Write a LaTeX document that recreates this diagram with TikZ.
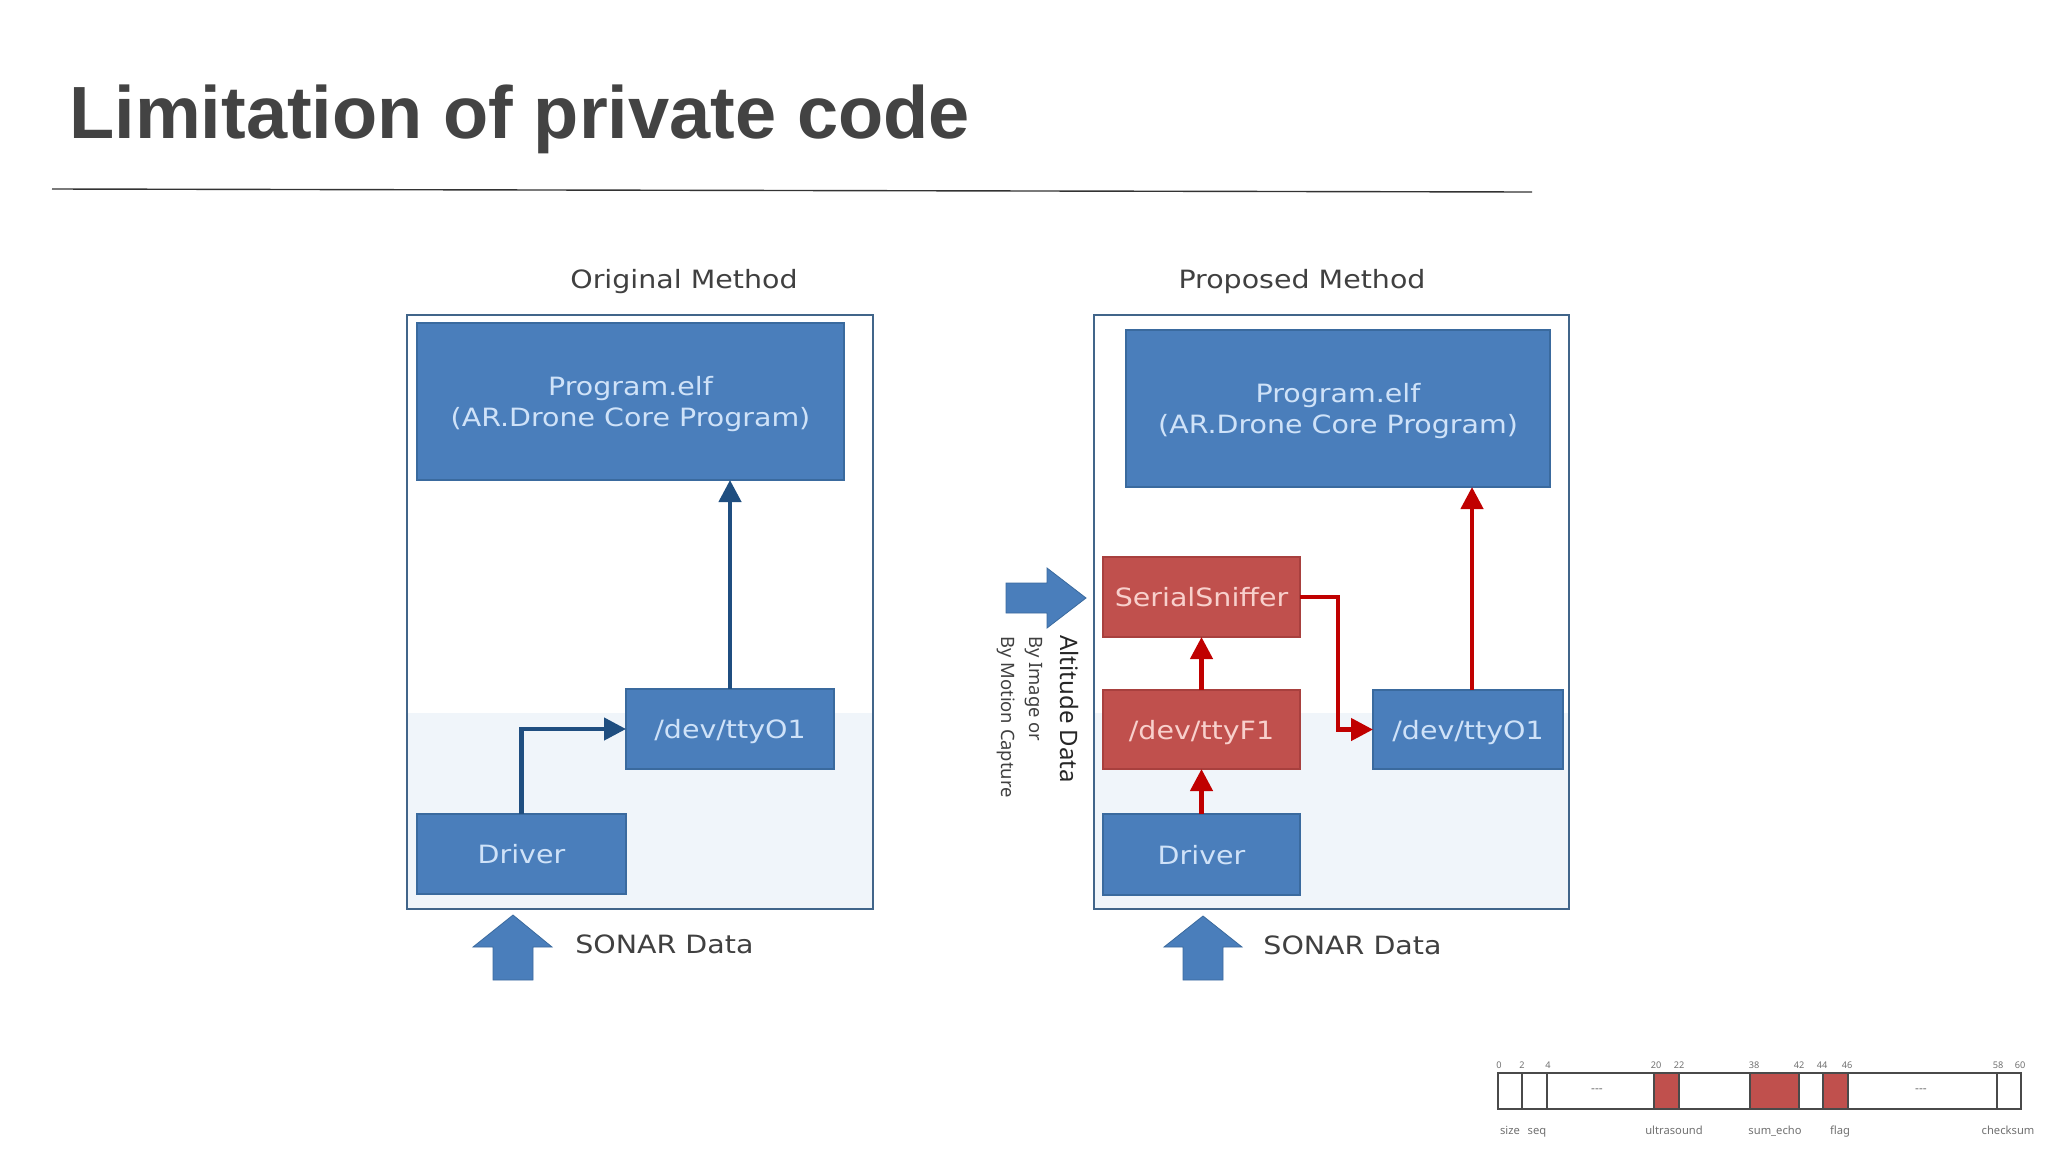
\documentclass[tikz,border=0pt]{standalone}
\usepackage{fontspec}
\setmainfont[FakeStretch=1.13]{DejaVu Sans}
\newfontfamily\titlefont{Liberation Sans}
\newfontfamily\sidefont{Noto Sans}
\usetikzlibrary{arrows.meta}
\definecolor{bluefill}{HTML}{4A7EBB}
\definecolor{blueedge}{HTML}{3A6A9E}
\definecolor{bluetext}{HTML}{CFE2F8}
\definecolor{redfill}{HTML}{C0504D}
\definecolor{rededge}{HTML}{A8403E}
\definecolor{redtext}{HTML}{F8D0CC}
\definecolor{framecol}{HTML}{41658A}
\definecolor{shadecol}{HTML}{F0F5FA}
\definecolor{darkarrow}{HTML}{1F4E80}
\definecolor{redarrow}{HTML}{C00000}
\definecolor{titlecol}{HTML}{434343}
\definecolor{bodytext}{HTML}{404040}
\definecolor{cellred}{HTML}{C0504D}
\definecolor{cellline}{HTML}{4A4A4A}
\definecolor{smalltext}{HTML}{707070}
\tikzset{
  wh/.style 2 args={minimum width=#1*0.5pt, minimum height=#2*0.5pt, inner sep=0pt, outer sep=0pt},
  bluebox/.style={draw=blueedge, fill=bluefill, line width=1pt, text=bluetext, text depth=0pt, font=\fontsize{12.6}{15.5}\selectfont, align=center},
  redbox/.style={draw=rededge, fill=redfill, line width=1pt, text=redtext, text depth=0pt, font=\fontsize{12.6}{15.5}\selectfont, align=center},
  framebox/.style={draw=framecol, line width=1.1pt},
  darrow/.style={draw=darkarrow, line width=2.2pt, -{Triangle[length=11pt,width=11pt]}},
  rarrow/.style={draw=redarrow, line width=2.2pt, -{Triangle[length=11pt,width=11pt]}},
  lbl/.style={text=bodytext, font=\fontsize{12.6}{15.5}\selectfont, inner sep=0pt},
  sidelbl/.style={text=bodytext, inner sep=0pt, rotate=-90, anchor=west},
  cell/.style={draw=cellline, line width=0.8pt},
  redcell/.style={cell, fill=cellred},
  numtxt/.style={text=smalltext, font=\sidefont\fontsize{4.6}{5}\selectfont, inner sep=0pt},
  captxt/.style={text=smalltext, font=\sidefont\fontsize{5.6}{6}\selectfont, inner sep=0pt, text height=4.2pt, text depth=1.2pt},
  dotstxt/.style={text=smalltext, font=\sidefont\bfseries\fontsize{6}{6}\selectfont, inner sep=0pt},
  blockarrow/.style={fill=bluefill, draw=blueedge, line width=0.4pt},
}
\begin{document}
\begin{tikzpicture}[x=0.5pt,y=-0.5pt]
\useasboundingbox (0,0) rectangle (2048,1152);
% title
\node[anchor=base west, inner sep=0pt, text=titlecol, font=\titlefont\bfseries\fontsize{37}{40}\selectfont] (title) at (69,138) {Limitation of private code};
\coordinate (ruleA) at (52,189);
\coordinate (ruleB) at (1532,192);
\draw[line width=0.7pt, draw=black!80] (ruleA) -- (ruleB);
% shaded lower parts
\fill[shadecol] (407,713) rectangle (873,909);
\fill[shadecol] (1094,713) rectangle (1569,909);
% frames
\node[framebox, wh={466}{594}] (frameL) at (640,612) {};
\node[framebox, wh={475}{594}] (frameR) at (1331.5,612) {};
\node[lbl] (titleL) at (684,282) {Original Method};
\node[lbl] (titleR) at (1302,282) {Proposed Method};
% left boxes
\node[bluebox, wh={427}{157}] (progL) at (630.5,401.5) {Program.elf\\(AR.Drone Core Program)};
\node[bluebox, wh={208}{80}] (ttyL) at (730,729) {/dev/ttyO1};
\node[bluebox, wh={209}{80}] (drvL) at (521.5,854) {Driver};
\draw[darrow] (drvL.north) |- (ttyL.west);
\draw[darrow] (ttyL.north) -- (ttyL.north |- progL.south);
% right boxes
\node[bluebox, wh={424}{157}] (progR) at (1338,408.5) {Program.elf\\(AR.Drone Core Program)};
\node[redbox, wh={197}{80}] (sniff) at (1201.5,597) {SerialSniffer};
\node[redbox, wh={197}{79}] (ttyF) at (1201.5,729.5) {/dev/ttyF1};
\node[bluebox, wh={197}{81}] (drvR) at (1201.5,854.5) {Driver};
\node[bluebox, wh={190}{79}] (ttyR) at (1468,729.5) {/dev/ttyO1};
\coordinate (bend) at (1338,597);
\draw[rarrow] (drvR.north) -- (ttyF.south);
\draw[rarrow] (ttyF.north) -- (sniff.south);
\draw[rarrow] (sniff.east) -- (bend) |- (ttyR.west);
\draw[rarrow] ([xshift=2pt]ttyR.north) -- ([xshift=2pt]ttyR.north |- progR.south);
% block arrows
\draw[blockarrow] (493,980) -- (493,947) -- (473,947) -- (513,915) -- (552,947) -- (533,947) -- (533,980) -- cycle;
\draw[blockarrow] (1183,980) -- (1183,947) -- (1164,947) -- (1203,916) -- (1242,947) -- (1223,947) -- (1223,980) -- cycle;
\draw[blockarrow] (1006,583) -- (1047,583) -- (1047,568) -- (1086,598) -- (1047,628) -- (1047,613) -- (1006,613) -- cycle;
\node[lbl, anchor=west] (sonarL) at (575,944) {SONAR Data};
\node[lbl, anchor=west] (sonarR) at (1263,945) {SONAR Data};
\node[sidelbl, text=black!85, font=\sidefont\fontsize{12}{13}\selectfont] (alt) at (1069,635) {Altitude Data};
\node[sidelbl, font=\sidefont\fontsize{9.2}{10}\selectfont] (byimg) at (1034,636) {By Image or};
\node[sidelbl, font=\sidefont\fontsize{9.2}{10}\selectfont] (bymot) at (1006,636) {By Motion Capture};
% packet strip
\draw[cell] (1498,1073) rectangle (2021,1109);
\draw[cell] (1522,1073) -- (1522,1109);
\draw[cell] (1547,1073) -- (1547,1109);
\draw[cell] (1997,1073) -- (1997,1109);
\draw[redcell] (1654,1073) rectangle (1679,1109);
\draw[redcell] (1750,1073) rectangle (1799,1109);
\draw[redcell] (1823,1073) rectangle (1848,1109);
\node[dotstxt] (d1) at (1597,1091) {-{}-{}-};
\node[dotstxt] (d2) at (1921,1091) {-{}-{}-};
\node[numtxt] (n0) at (1499,1065) {0};
\node[numtxt] (n2) at (1522,1065) {2};
\node[numtxt] (n4) at (1548,1065) {4};
\node[numtxt] (n20) at (1656,1065) {20};
\node[numtxt] (n22) at (1679,1065) {22};
\node[numtxt] (n38) at (1754,1065) {38};
\node[numtxt] (n42) at (1799,1065) {42};
\node[numtxt] (n44) at (1822,1065) {44};
\node[numtxt] (n46) at (1847,1065) {46};
\node[numtxt] (n58) at (1998,1065) {58};
\node[numtxt] (n60) at (2020,1065) {60};
\node[captxt] (c1) at (1510,1131) {size};
\node[captxt] (c2) at (1537,1131) {seq};
\node[captxt] (c3) at (1674,1131) {ultrasound};
\node[captxt] (c4) at (1775,1131) {sum\_echo};
\node[captxt] (c5) at (1840,1131) {flag};
\node[captxt] (c6) at (2008,1131) {checksum};
\end{tikzpicture}
\end{document}
